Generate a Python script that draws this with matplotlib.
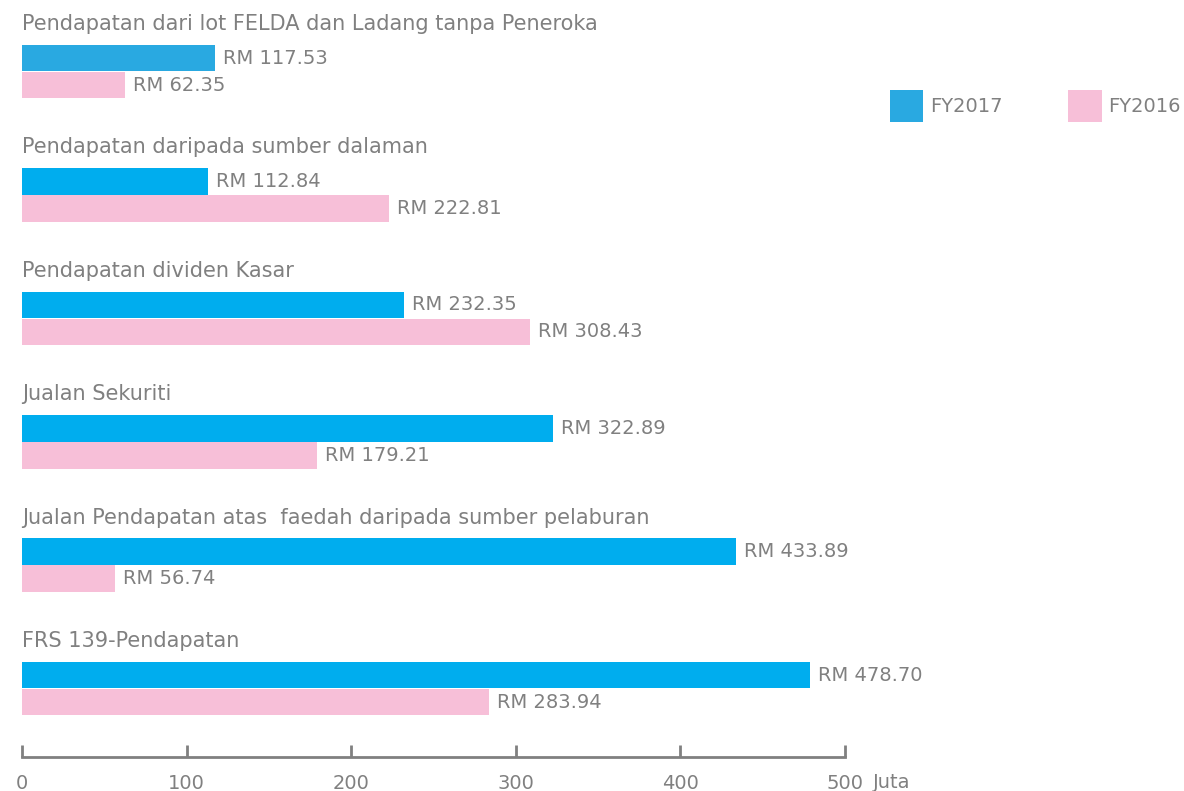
import matplotlib.pyplot as plt
import numpy as np

# === Data ===
categories = [
    "Pendapatan dari lot FELDA dan Ladang tanpa Peneroka",
    "Pendapatan daripada sumber dalaman",
    "Pendapatan dividen Kasar",
    "Jualan Sekuriti",
    "Jualan Pendapatan atas  faedah daripada sumber pelaburan",
    "FRS 139-Pendapatan",
]
fy2017 = [117.53, 112.84, 232.35, 322.89, 433.89, 478.70]
fy2016 = [62.35, 222.81, 308.43, 179.21, 56.74, 283.94]
xticks = [0, 100, 200, 300, 400, 500]

# === Style ===
BLUE = "#00adee"
BLUE_FIRST = "#29a9e1"
PINK = "#f7bfd8"
GREY = "#808080"
FONT = "DejaVu Sans"
FS = 15      # category titles
FS_SMALL = 14  # values, ticks, legend

plt.rcParams['font.family'] = [FONT]

W, H = 1184, 791
fig = plt.figure(figsize=(W / 100, H / 100), dpi=100)
ax = fig.add_axes([22 / W, 34 / H, 823 / W, 757 / H])

y = np.arange(len(categories))
off_blue, off_pink, bar_h = 0.276, 0.495, 0.215

blue_cols = [BLUE_FIRST] + [BLUE] * (len(categories) - 1)
ax.barh(y + off_blue, fy2017, height=bar_h, color=blue_cols, label="FY2017")
ax.barh(y + off_pink, fy2016, height=bar_h, color=PINK, label="FY2016")

# category titles and value labels
for i, name in enumerate(categories):
    ax.text(0, y[i], name, ha='left', va='center', fontsize=FS, color=GREY)
    ax.annotate(f"RM {fy2017[i]:.2f}", (fy2017[i], y[i] + off_blue),
                xytext=(8, 0), textcoords='offset pixels',
                ha='left', va='center', fontsize=FS_SMALL, color=GREY)
    ax.annotate(f"RM {fy2016[i]:.2f}", (fy2016[i], y[i] + off_pink),
                xytext=(8, 0), textcoords='offset pixels',
                ha='left', va='center', fontsize=FS_SMALL, color=GREY)

ax.set_xlim(0, 500)
ax.set_ylim(5.94, -0.194)
ax.set_xticks(xticks)
ax.set_xticklabels([str(t) for t in xticks], fontsize=FS_SMALL, color=GREY)
ax.set_yticks([])
ax.tick_params(axis='x', direction='in', length=9, width=2, color=GREY, pad=12)
for s in ['top', 'left', 'right']:
    ax.spines[s].set_visible(False)
ax.spines['bottom'].set_color(GREY)
ax.spines['bottom'].set_linewidth(2)
ax.patch.set_visible(False)

ax.annotate("Juta", (1, 0), xycoords='axes fraction', xytext=(28, -26),
            textcoords='offset pixels', ha='left', va='center',
            fontsize=FS_SMALL, color=GREY, annotation_clip=False)

fig.legend(loc='upper left', bbox_to_anchor=(890 / W, 1 - 90 / H), ncol=2,
           frameon=False, handlelength=1.7, handleheight=2.15,
           handletextpad=0.35, columnspacing=3.4, borderpad=0, borderaxespad=0,
           prop={'family': FONT, 'size': FS_SMALL}, labelcolor=GREY)

fig.savefig("out.png", dpi=100)
